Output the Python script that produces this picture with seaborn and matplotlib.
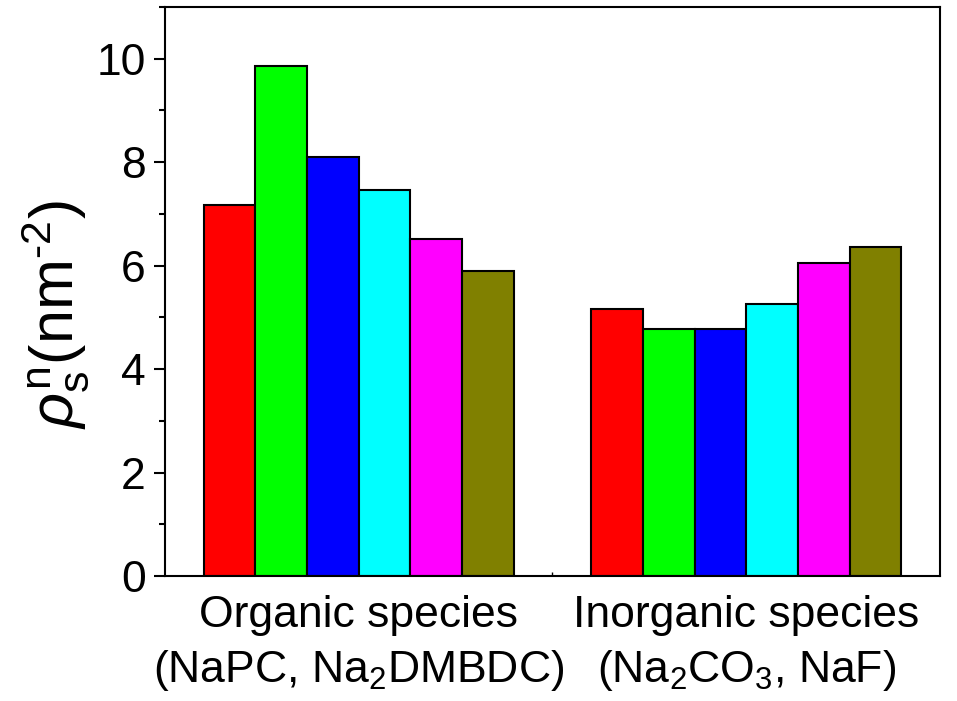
import numpy as np
import pandas as pd
import seaborn as sns
import matplotlib
matplotlib.use("Agg")
import matplotlib.pyplot as plt
from matplotlib.ticker import MultipleLocator, FixedLocator

# Category labels (two-line tick labels with chemical subscripts)
groups = [
    "Organic species\n(NaPC, Na$_2$DMBDC)",
    "Inorganic species\n(Na$_2$CO$_3$, NaF)",
]
samples = ["Sample 1", "Sample 2", "Sample 3", "Sample 4", "Sample 5", "Sample 6"]
organic_vals = [7.17, 9.85, 8.11, 7.47, 6.52, 5.89]
inorganic_vals = [5.17, 4.77, 4.77, 5.25, 6.05, 6.37]
bar_colors = ["#FF0000", "#00FF00", "#0000FF", "#00FFFF", "#FF00FF", "#808000"]

df = pd.DataFrame({
    "group": [groups[0]] * len(samples) + [groups[1]] * len(samples),
    "sample": samples * 2,
    "value": organic_vals + inorganic_vals,
})

sns.set_theme(style="ticks")
plt.rcParams["font.family"] = ["Liberation Sans", "DejaVu Sans"]
plt.rcParams["mathtext.fontset"] = "custom"
plt.rcParams["mathtext.rm"] = "Liberation Sans"
plt.rcParams["mathtext.it"] = "Liberation Sans:italic"
plt.rcParams["mathtext.bf"] = "Liberation Sans:bold"

fig = plt.figure(figsize=(9.57, 7.01), dpi=100)
ax = fig.add_axes([0.1724, 0.1783, 0.8098, 0.8117])

sns.barplot(
    data=df, x="group", y="value", hue="sample",
    palette=bar_colors, saturation=1, width=0.8,
    edgecolor="black", linewidth=1.5, legend=False, ax=ax,
)

ax.set_xlim(-0.5, 1.5)
ax.set_ylim(0, 11)
ax.yaxis.set_major_locator(MultipleLocator(2))
ax.yaxis.set_minor_locator(MultipleLocator(1))
ax.set_xticks([0, 1])
ax.set_xticklabels(groups, linespacing=1.35)
ax.xaxis.set_minor_locator(FixedLocator([0.5]))

ax.tick_params(axis="y", which="major", direction="out", length=8, width=1.5,
               labelsize=32, pad=6, color="black", labelcolor="black")
ax.tick_params(axis="y", which="minor", direction="out", length=4, width=1.5,
               color="black")
ax.tick_params(axis="x", which="major", direction="in", length=3, width=1.0,
               labelsize=32, pad=14, color="black", labelcolor="black")
ax.tick_params(axis="x", which="minor", direction="in", length=3, width=1.0,
               color="black")

for side in ["left", "right", "top", "bottom"]:
    ax.spines[side].set_visible(True)
    ax.spines[side].set_linewidth(1.5)
    ax.spines[side].set_color("black")

ax.set_xlabel("")
ax.set_ylabel(r"$\rho_\mathrm{s}^\mathrm{n}$(nm$^{\text{-2}}$)", fontsize=44,
              color="black")
ax.yaxis.set_label_coords(-0.096, 0.46)

fig.savefig("out.png", dpi=100)
